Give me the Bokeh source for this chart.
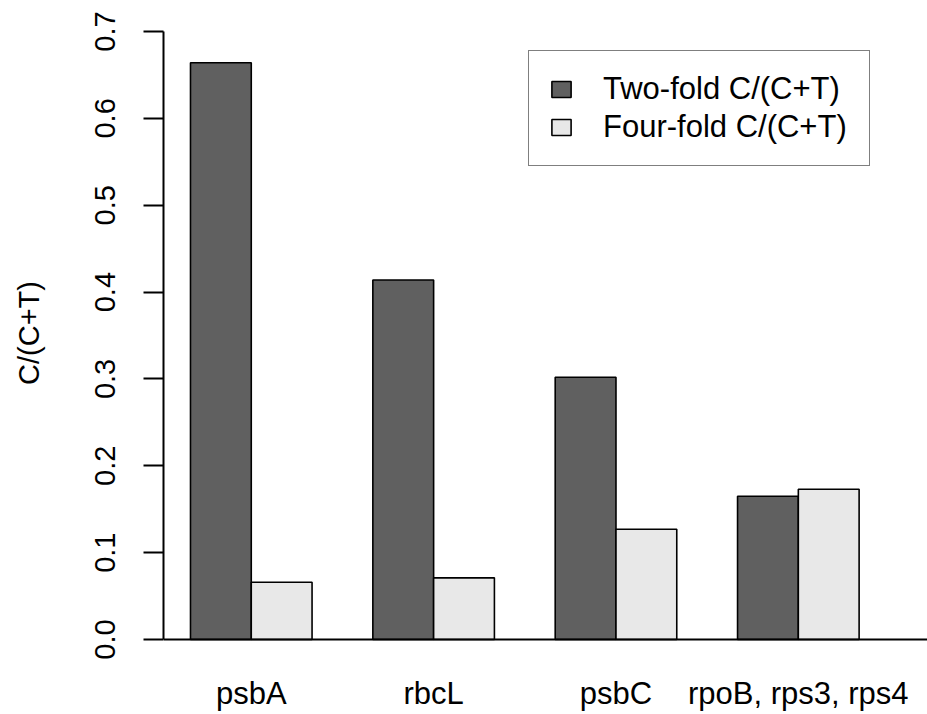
from bokeh.plotting import figure
from bokeh.models import (Range1d, FixedTicker, LinearAxis, Span, Legend,
                          LegendItem, PrintfTickFormatter)
from bokeh.embed import file_html
from bokeh.resources import INLINE

# ---- data ----
genes = ["psbA", "rbcL", "psbC", "rpoB, rps3, rps4"]
two_fold = [0.664, 0.414, 0.302, 0.165]
four_fold = [0.066, 0.071, 0.127, 0.173]
series_names = ["Two-fold C/(C+T)", "Four-fold C/(C+T)"]
y_ticks = [0.0, 0.1, 0.2, 0.3, 0.4, 0.5, 0.6, 0.7]
y_title = "C/(C+T)"

FONT = "Liberation Sans"
FS_AXIS = "29px"
FS_TEXT = "31px"
DARK = "#606060"
LIGHT = "#E8E8E8"

W, H = 927, 714
p = figure(width=W, height=H, output_backend="svg", toolbar_location=None,
           x_range=Range1d(0.556, 13.125), y_range=Range1d(-0.0184, 0.7242),
           min_border_left=163, min_border_right=0, min_border_top=10,
           min_border_bottom=59, x_axis_location=None, y_axis_location=None,
           outline_line_color=None)
p.grid.visible = False

# group layout like R barplot(beside=TRUE, space=c(0,1))
x_two = [1.5 + 3 * i for i in range(len(genes))]
x_four = [2.5 + 3 * i for i in range(len(genes))]
centers = [2 + 3 * i for i in range(len(genes))]

r1 = p.vbar(x=x_two, top=two_fold, bottom=0, width=1, fill_color=DARK,
            line_color="black", line_width=1.6)
r2 = p.vbar(x=x_four, top=four_fold, bottom=0, width=1, fill_color=LIGHT,
            line_color="black", line_width=1.6)

p.add_layout(Span(location=0, dimension="width", line_color="black", line_width=2.2))

yaxis = LinearAxis(ticker=FixedTicker(ticks=y_ticks),
                   formatter=PrintfTickFormatter(format="%.1f"),
                   bounds=(0, 0.7), axis_label=y_title)
yaxis.axis_line_width = 2
yaxis.major_tick_line_width = 2
yaxis.major_tick_out = 20
yaxis.major_tick_in = 0
yaxis.minor_tick_line_color = None
yaxis.major_label_orientation = "parallel"
yaxis.major_label_text_font = FONT
yaxis.major_label_text_font_size = FS_AXIS
yaxis.major_label_text_color = "black"
yaxis.major_label_standoff = 28
yaxis.axis_label_text_font = FONT
yaxis.axis_label_text_font_size = FS_AXIS
yaxis.axis_label_text_font_style = "normal"
yaxis.axis_label_text_color = "black"
yaxis.axis_label_standoff = 48
p.add_layout(yaxis, "left")

xaxis = LinearAxis(ticker=FixedTicker(ticks=centers),
                   major_label_overrides={c: g for c, g in zip(centers, genes)})
xaxis.axis_line_color = None
xaxis.major_tick_line_color = None
xaxis.minor_tick_line_color = None
xaxis.major_label_text_font = FONT
xaxis.major_label_text_font_size = FS_TEXT
xaxis.major_label_text_color = "black"
xaxis.major_label_standoff = 14
p.add_layout(xaxis, "below")

legend = Legend(items=[LegendItem(label=series_names[0], renderers=[r1]),
                       LegendItem(label=series_names[1], renderers=[r2])],
                location=(365, 489), orientation="vertical")
legend.padding = 20
legend.spacing = 2
legend.margin = 0
legend.glyph_width = 24
legend.glyph_height = 20
legend.label_standoff = 30
legend.label_width = 246
legend.label_text_font = FONT
legend.label_text_font_size = FS_TEXT
legend.label_text_color = "black"
legend.border_line_color = "black"
legend.border_line_width = 1.6
legend.background_fill_alpha = 1
p.add_layout(legend, "center")

open("out.html", "w").write(file_html(p, INLINE))
